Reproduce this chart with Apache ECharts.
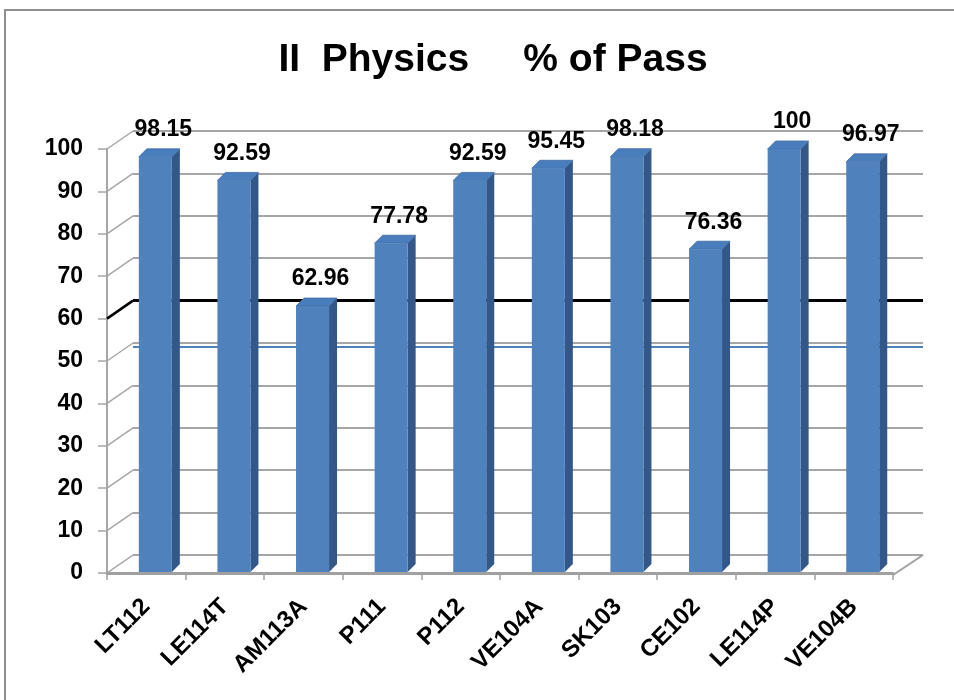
<!DOCTYPE html>
<html><head><meta charset="utf-8">
<script src="https://cdn.jsdelivr.net/npm/echarts@6/dist/echarts.min.js"></script>
<style>html,body{margin:0;padding:0;background:#fff}#c{width:954px;height:700px}</style>
</head><body><div id="c"></div>
<script>
const categories = ['LT112','LE114T','AM113A','P111','P112','VE104A','SK103','CE102','LE114P','VE104B'];
const passPercent = [98.15,92.59,62.96,77.78,92.59,95.45,98.18,76.36,100,96.97];
const yTicks = [0,10,20,30,40,50,60,70,80,90,100];
const referenceLines = [60, 49];

const FRONT = {left:107, right:61, top:149, bottom:127};
const BACK = {left:133, right:31, top:131, bottom:145};
const WALL_DX_L = FRONT.left - BACK.left;
const WALL_DX_R = (954 - FRONT.right) - (954 - BACK.right);
const WALL_DY = (700 - FRONT.bottom) - (700 - BACK.bottom);
const FONT = '"Liberation Sans", Arial, sans-serif';

const chart = echarts.init(document.getElementById('c'));
chart.setOption({
  backgroundColor: '#fff',
  animation: false,
  graphic: [{type:'rect', shape:{x:5, y:10, width:1000, height:1000}, style:{fill:'none', stroke:'#8E8E8E', lineWidth:2}, z:-10}],
  title: {
    text: 'II  Physics     % of Pass',
    left: 488, top: 36, textAlign: 'center',
    textStyle: {fontFamily: FONT, fontWeight: 'bold', fontSize: 39, color: '#000'}
  },
  grid: [
    {left: FRONT.left, right: FRONT.right, top: FRONT.top, bottom: FRONT.bottom},
    {left: BACK.left, right: BACK.right, top: BACK.top, bottom: BACK.bottom}
  ],
  xAxis: [
    {type:'category', gridIndex:0, data: categories, boundaryGap:true,
     axisLine:{show:true, lineStyle:{color:'#A0A0A0', width:3}},
     axisTick:{show:true, length:7, lineStyle:{color:'#A0A0A0', width:1.5}},
     axisLabel:{rotate:45, interval:0, margin:30, color:'#000', fontFamily:FONT, fontWeight:'bold', fontSize:24}},
    {type:'category', gridIndex:1, data: categories, boundaryGap:true, show:false}
  ],
  yAxis: [
    {type:'value', gridIndex:0, min:0, max:100, interval:10,
     axisLine:{show:true, lineStyle:{color:'#A6A6A6', width:2}},
     axisTick:{show:true, length:9, lineStyle:{color:'#A6A6A6', width:1.5}},
     splitLine:{show:false},
     axisLabel:{margin:24, color:'#000', fontFamily:FONT, fontWeight:'bold', fontSize:23}},
    {type:'value', gridIndex:1, min:0, max:100, interval:10,
     axisLine:{show:false}, axisTick:{show:false}, axisLabel:{show:false},
     splitLine:{show:true, lineStyle:{color:'#A6A6A6', width:2}}}
  ],
  series: [
    {
      type:'custom', xAxisIndex:1, yAxisIndex:1, z:2, silent:true,
      data: yTicks.map(v => [0, v]),
      renderItem: function(params, api) {
        const v = api.value(1);
        const p = api.coord([0, v]);
        const half = api.size([1, 0])[0] / 2;
        const bx = p[0] - half, by = p[1];
        const color = v === referenceLines[0] ? '#000' : (v === 0 ? '#A0A0A0' : '#A6A6A6');
        const children = [{type:'line', shape:{x1:bx + WALL_DX_L, y1:by + WALL_DY, x2:bx, y2:by},
          style:{stroke:color, lineWidth: v === referenceLines[0] ? 2.5 : 1.5}}];
        if (v === 0) {
          const rx = api.coord([categories.length - 1, 0])[0] + half;
          children.push({type:'line', shape:{x1:rx + WALL_DX_R, y1:by + WALL_DY + 2, x2:rx, y2:by},
            style:{stroke:'#A0A0A0', lineWidth:2}});
        }
        return {type:'group', children};
      },
      markLine: {
        silent:true, symbol:'none', label:{show:false}, z:3,
        data: referenceLines.map((v, k) => ({yAxis: v,
          lineStyle:{color: k === 0 ? '#000' : '#4F81BD', width: k === 0 ? 3 : 2, type:'solid'}}))
      }
    },
    {
      type:'custom', xAxisIndex:0, yAxisIndex:0, z:10,
      data: passPercent.map((v, i) => [i, v]),
      renderItem: function(params, api) {
        const i = api.value(0), v = api.value(1);
        const top = api.coord([i, v]);
        const base = api.coord([i, 0]);
        const band = api.size([1, 0])[0];
        const w = band * 0.42;
        const cx = top[0] + band * 0.115;
        const x0 = cx - w / 2, x1 = cx + w / 2;
        const yt = top[1], yb = base[1] - 1;
        const d = 8;
        return {type:'group', children:[
          {type:'polygon', shape:{points:[[x1,yt],[x1+d,yt-d],[x1+d,yb-d],[x1,yb]]}, style:{fill:'#34578A'}},
          {type:'polygon', shape:{points:[[x0,yt],[x0+d,yt-d],[x1+d,yt-d],[x1,yt]]}, style:{fill:'#4A7DBB', stroke:'#3E6BA3', lineWidth:0.8}},
          {type:'rect', shape:{x:x0, y:yt, width:w, height:yb-yt}, style:{fill:'#4F81BD'}},
          {type:'text', style:{text:String(v), x:cx + 8, y:yt - 27, align:'center', verticalAlign:'middle',
            font:'bold 23px ' + FONT, fill:'#000'}}
        ]};
      }
    }
  ]
});
</script></body></html>
